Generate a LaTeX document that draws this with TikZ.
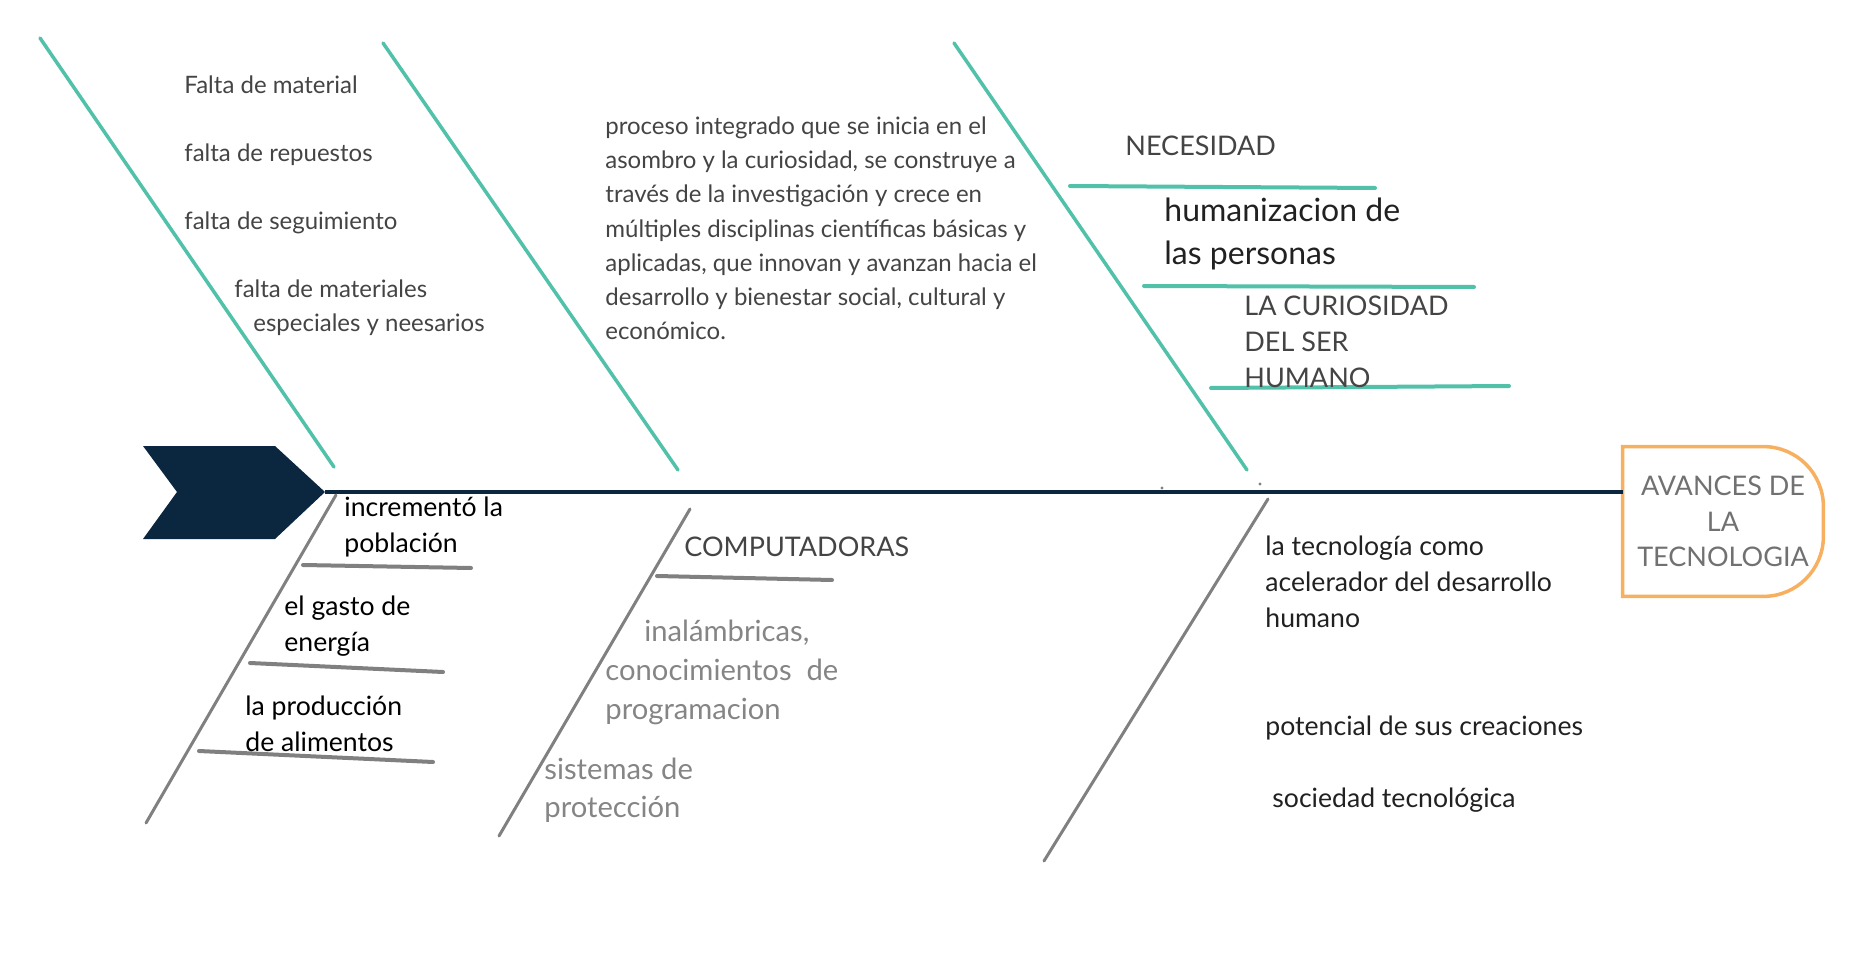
\documentclass[tikz,border=0pt]{standalone}
\usepackage{fontspec}
\setmainfont{Lato}
\definecolor{navy}{RGB}{11,39,64}
\definecolor{bonegreen}{RGB}{82,193,169}
\definecolor{bonegray}{RGB}{128,128,128}
\definecolor{goalorange}{RGB}{246,176,96}
\definecolor{inkgray}{RGB}{68,68,68}
\definecolor{softgray}{RGB}{133,133,133}

\begin{document}
\begin{tikzpicture}
    [x=0.5pt, y=-0.5pt,
    greenbone/.style={draw=bonegreen, line width=1.75pt, line cap=round},
    graybone/.style={draw=bonegray, line width=1.5pt, line cap=round},
    grayrib/.style={draw=bonegray, line width=2pt, line cap=round},
    item/.style={anchor=base west, inner sep=0pt, align=left, text=inkgray,
        font=\fontsize{12}{17.15}\selectfont},
    heading/.style={item, font=\fontsize{13.5}{18}\selectfont},
    cause/.style={item, text=black, font=\fontsize{13.3}{18}\selectfont},
    program/.style={item, text=softgray, font=\fontsize{14.6}{19.5}\selectfont}]

    \useasboundingbox (0,0) rectangle (1864,968);

    \coordinate (tail) at (325,492);
    \fill[navy] (143,446) -- (275,446) -- (tail) -- (275,539) -- (143,539) -- (177,492) -- cycle;

    \node (goal) at (1723,521.5) [minimum width=100pt, minimum height=74.5pt, inner sep=0pt,
        align=center, text=softgray!85!black, font=\fontsize{13.5}{17.75}\selectfont]
        {AVANCES DE\\LA\\TECNOLOGIA};
    \draw[goalorange, line width=1.75pt]
        (goal.south west) -- (goal.north west) -- ([xshift=-30pt]goal.north east)
        arc[start angle=90, end angle=0, radius=30pt] -- ([yshift=30pt]goal.south east)
        arc[start angle=0, end angle=-90, radius=30pt] -- cycle;
    \draw[navy, line width=2pt] (tail) -- (tail -| goal.west);
    \fill[bonegray] (1162,488) circle (1.7) (1260,484) circle (1.7);

    \coordinate (g1top) at (40,38);    \coordinate (g1end) at (334,467);
    \coordinate (g2top) at (383,43);   \coordinate (g2end) at (678,470);
    \coordinate (g3top) at (954,43);   \coordinate (g3end) at (1247,470);
    \draw[greenbone] (g1top) -- (g1end);
    \draw[greenbone] (g2top) -- (g2end);
    \draw[greenbone] (g3top) -- (g3end);

    \coordinate (r1a) at (1070,186);   \coordinate (r1b) at (1375,188);
    \coordinate (r2a) at (1144,286);   \coordinate (r2b) at (1474,287);
    \coordinate (r3a) at (1211,388);   \coordinate (r3b) at (1509,386);
    \draw[greenbone, line width=2pt] (r1a) -- (r1b);
    \draw[greenbone, line width=2pt] (r2a) -- (r2b);
    \draw[greenbone, line width=2pt] (r3a) -- (r3b);

    \coordinate (b1top) at (336,495);  \coordinate (b1end) at (146,823);
    \coordinate (b2top) at (690,509);  \coordinate (b2end) at (499,836);
    \coordinate (b3top) at (1268,499); \coordinate (b3end) at (1044,861);
    \draw[graybone] (b1top) -- (b1end);
    \draw[graybone] (b2top) -- (b2end);
    \draw[graybone] (b3top) -- (b3end);

    \coordinate (s1a) at (303,565);    \coordinate (s1b) at (471,568);
    \coordinate (s2a) at (250,663);    \coordinate (s2b) at (443,672);
    \coordinate (s3a) at (199,751);    \coordinate (s3b) at (433,762);
    \coordinate (s4a) at (657,576);    \coordinate (s4b) at (832,580);
    \draw[grayrib] (s1a) -- (s1b);
    \draw[grayrib] (s2a) -- (s2b);
    \draw[grayrib] (s3a) -- (s3b);
    \draw[grayrib] (s4a) -- (s4b);

    \node[item] (material) at (184,94) {Falta de material};
    \node[item] (repuestos) at (184,162) {falta de repuestos};
    \node[item] (seguimiento) at (184,230) {falta de seguimiento};
    \node[item] (especiales) at (234,332) {falta de materiales\\\hspace{9.5pt}especiales y neesarios};
    \node[item] (proceso) at (605,340)
        {proceso integrado que se inicia en el\\asombro y la curiosidad, se construye a\\través de la investigación y crece en\\múltiples disciplinas científicas básicas y\\aplicadas, que innovan y avanzan hacia el\\desarrollo y bienestar social, cultural y\\económico.};

    \node[heading] (necesidad) at (1125,156) {NECESIDAD};
    \node[item, text=black!87, font=\fontsize{16}{21.5}\selectfont] (humanizacion) at (1164,265)
        {humanizacion de\\las personas};
    \node[heading] (curiosidad) at (1244,387) {LA CURIOSIDAD\\DEL SER\\HUMANO};

    \node[cause] (poblacion) at (344,552) {incrementó la\\población};
    \node[cause] (energia) at (284,651) {el gasto de\\energía};
    \node[cause] (alimentos) at (245,751) {la producción\\de alimentos};

    \node[heading] (computadoras) at (684,556) {COMPUTADORAS};
    \node[program] (inalambricas) at (605,719)
        {\hspace{19.5pt}inalámbricas,\\conocimientos~ de\\programacion};
    \node[program, font=\fontsize{14.6}{19}\selectfont] (proteccion) at (544,817)
        {sistemas de\\protección};

    \node[cause, text=black!87] (acelerador) at (1265,627) {la tecnología como\\acelerador del desarrollo\\humano};
    \node[cause, text=black!87] (potencial) at (1265,735) {potencial de sus creaciones};
    \node[cause, text=black!87] (sociedad) at (1272,807) {sociedad tecnológica};

\end{tikzpicture}
\end{document}
